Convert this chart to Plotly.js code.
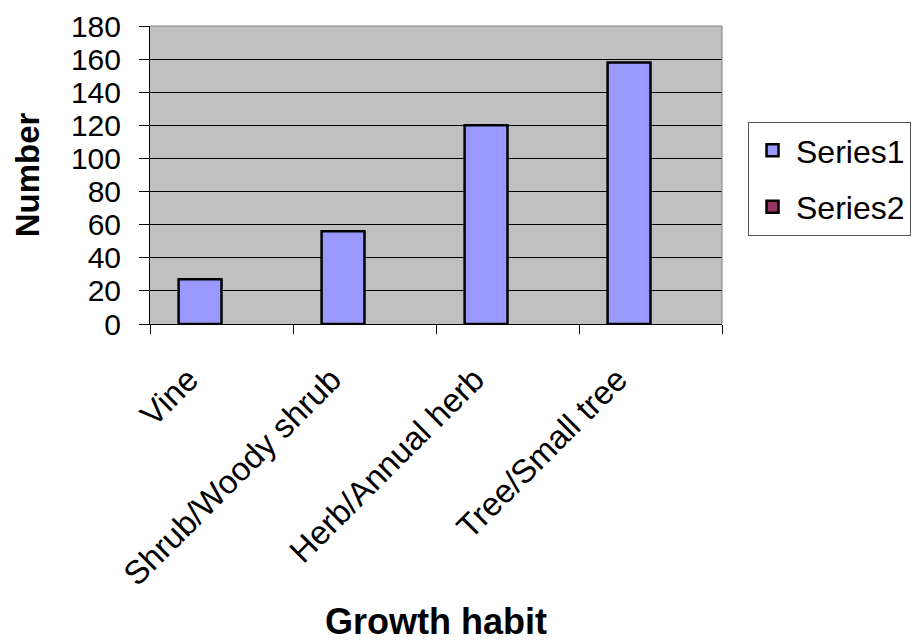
<!DOCTYPE html>
<html>
<head>
<meta charset="utf-8">
<script src="https://cdn.plot.ly/plotly-3.0.1.min.js"></script>
<style>html,body{margin:0;padding:0;background:#fff;}#chart{width:915px;height:642px;}</style>
</head>
<body>
<div id="chart"></div>
<script>
var categories = ["Vine", "Shrub/Woody shrub", "Herb/Annual herb", "Tree/Small tree"];
var series1 = [27, 56, 120, 158];
var series2 = [null, null, null, null];
var yTicks = [0, 20, 40, 60, 80, 100, 120, 140, 160, 180];

var font = "Liberation Sans, Arial, sans-serif";

var data = [
  {type: "bar", name: "Series1", x: categories, y: series1, legendgroup: "a",
   marker: {color: "#9999ff", line: {color: "#000000", width: 2.5}}},
  {type: "bar", name: "Series2", x: categories, y: series2, legendgroup: "b",
   marker: {color: "#993366", line: {color: "#000000", width: 2.5}}}
];

var layout = {
  width: 915, height: 642,
  margin: {l: 150, r: 193, t: 26, b: 318, autoexpand: false},
  paper_bgcolor: "#ffffff",
  plot_bgcolor: "#c0c0c0",
  barmode: "group",
  bargap: 0.4,
  bargroupgap: 0,
  font: {family: font, size: 30, color: "#000"},
  showlegend: true,
  legend: {
    x: 1.0455, y: 0.678, xanchor: "left", yanchor: "top",
    bordercolor: "#555555", borderwidth: 1, bgcolor: "#ffffff",
    font: {family: font, size: 32, color: "#000"},
    tracegroupgap: 12, itemwidth: 37
  },
  xaxis: {
    type: "category",
    tickangle: -45,
    tickson: "boundaries",
    ticks: "outside", ticklen: 9, tickcolor: "#000", tickwidth: 1,
    showline: true, linecolor: "#000", linewidth: 1,
    showgrid: false, zeroline: false,
    automargin: true,
    ticklabelstandoff: 22,
    ticklabelshift: -33,
    tickfont: {family: font, size: 33, color: "#000"},
    title: {text: "<b>Growth habit</b>", font: {family: font, size: 36, color: "#000"}, standoff: 33}
  },
  yaxis: {
    range: [0, 180],
    tickvals: yTicks,
    ticktext: yTicks.map(String),
    ticks: "outside", ticklen: 10, tickcolor: "#000", tickwidth: 1,
    showline: true, linecolor: "#000", linewidth: 1,
    showgrid: true, gridcolor: "#000", gridwidth: 1,
    zeroline: false,
    automargin: false,
    ticklabelstandoff: 12,
    tickfont: {family: font, size: 30, color: "#000"},
    title: {text: "<b>Number</b>", font: {family: font, size: 33, color: "#000"}, standoff: 21}
  },
  shapes: [
    {type: "line", xref: "paper", yref: "paper", x0: 0, x1: 1, y0: 1, y1: 1, line: {color: "#808080", width: 1}},
    {type: "line", xref: "paper", yref: "paper", x0: 1, x1: 1, y0: 0, y1: 1, line: {color: "#808080", width: 1}}
  ]
};

Plotly.newPlot("chart", data, layout, {displayModeBar: false, staticPlot: true});
</script>
</body>
</html>
